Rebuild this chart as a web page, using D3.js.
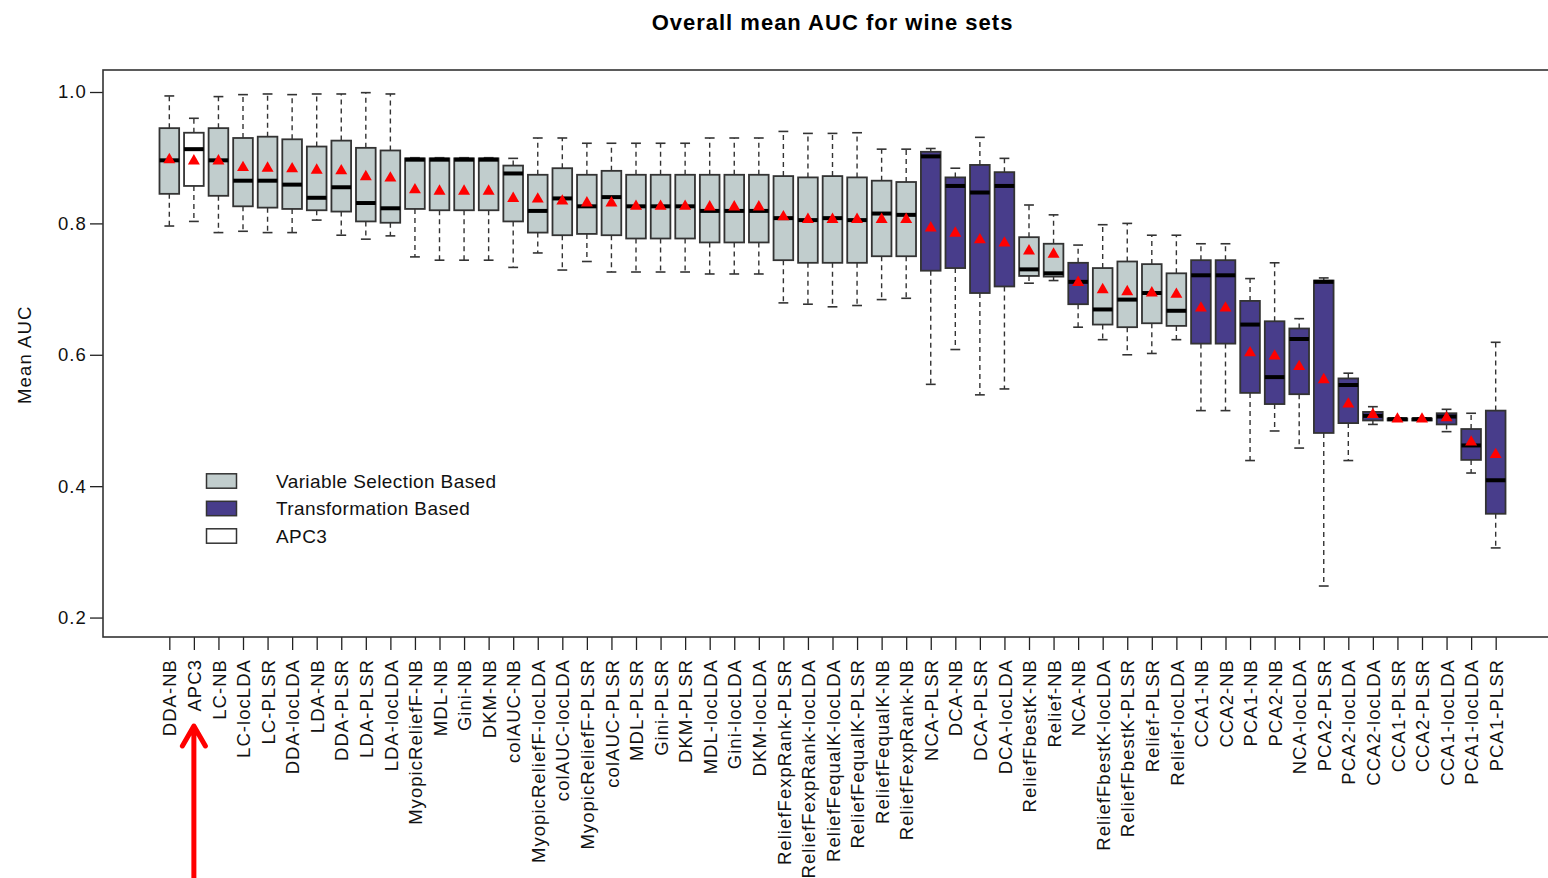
<!DOCTYPE html>
<html>
<head>
<meta charset="utf-8">
<script src="https://cdn.jsdelivr.net/npm/d3@7/dist/d3.min.js"></script>
<style>
  html, body { margin: 0; padding: 0; background: #fff; }
  svg { display: block; font-family: "Liberation Sans", Arial, sans-serif; }
</style>
</head>
<body>
<svg id="chart" width="1548" height="878"></svg>
<script>
const categories = ["DDA-NB","APC3","LC-NB","LC-locLDA","LC-PLSR","DDA-locLDA","LDA-NB","DDA-PLSR","LDA-PLSR","LDA-locLDA",
  "MyopicReliefF-NB","MDL-NB","Gini-NB","DKM-NB","colAUC-NB","MyopicReliefF-locLDA","colAUC-locLDA","MyopicReliefF-PLSR","colAUC-PLSR","MDL-PLSR",
  "Gini-PLSR","DKM-PLSR","MDL-locLDA","Gini-locLDA","DKM-locLDA","ReliefFexpRank-PLSR","ReliefFexpRank-locLDA","ReliefFequalK-locLDA","ReliefFequalK-PLSR","ReliefFequalK-NB",
  "ReliefFexpRank-NB","NCA-PLSR","DCA-NB","DCA-PLSR","DCA-locLDA","ReliefFbestK-NB","Relief-NB","NCA-NB","ReliefFbestK-locLDA","ReliefFbestK-PLSR",
  "Relief-PLSR","Relief-locLDA","CCA1-NB","CCA2-NB","PCA1-NB","PCA2-NB","NCA-locLDA","PCA2-PLSR","PCA2-locLDA","CCA2-locLDA",
  "CCA1-PLSR","CCA2-PLSR","CCA1-locLDA","PCA1-locLDA","PCA1-PLSR"];

// V = Variable Selection Based, T = Transformation Based, A = APC3
const groups = ["V","A","V","V","V","V","V","V","V","V",
  "V","V","V","V","V","V","V","V","V","V",
  "V","V","V","V","V","V","V","V","V","V",
  "V","T","T","T","T","V","V","T","V","V",
  "V","V","T","T","T","T","T","T","T","T",
  "T","T","T","T","T"];

const whiskerLow = [0.796,0.803,0.786,0.788,0.786,0.786,0.805,0.782,0.776,0.781,
  0.749,0.744,0.744,0.744,0.733,0.755,0.729,0.742,0.726,0.726,
  0.726,0.726,0.723,0.723,0.723,0.679,0.677,0.673,0.675,0.684,
  0.686,0.555,0.608,0.539,0.548,0.709,0.713,0.642,0.623,0.600,
  0.602,0.623,0.515,0.515,0.439,0.484,0.458,0.248,0.439,0.494,
  0.499,0.499,0.483,0.420,0.306];

const q1 = [0.845,0.857,0.842,0.826,0.824,0.822,0.820,0.818,0.803,0.801,
  0.822,0.820,0.820,0.820,0.803,0.786,0.782,0.784,0.782,0.777,
  0.777,0.777,0.771,0.771,0.771,0.744,0.740,0.740,0.740,0.750,
  0.750,0.728,0.732,0.694,0.704,0.720,0.719,0.677,0.646,0.642,
  0.648,0.644,0.617,0.617,0.542,0.525,0.540,0.481,0.496,0.500,
  0.500,0.500,0.494,0.440,0.358];

const medians = [0.896,0.913,0.896,0.865,0.865,0.859,0.839,0.855,0.831,0.823,
  0.897,0.897,0.897,0.897,0.876,0.819,0.838,0.826,0.840,0.826,
  0.826,0.826,0.819,0.819,0.819,0.808,0.805,0.808,0.805,0.815,
  0.813,0.902,0.857,0.847,0.857,0.730,0.724,0.711,0.669,0.684,
  0.694,0.667,0.721,0.721,0.646,0.566,0.624,0.711,0.554,0.507,
  0.502,0.502,0.506,0.462,0.409];

const q3 = [0.945,0.938,0.945,0.930,0.932,0.928,0.917,0.926,0.915,0.911,
  0.899,0.899,0.899,0.899,0.888,0.874,0.884,0.874,0.880,0.874,
  0.874,0.874,0.874,0.874,0.874,0.872,0.870,0.872,0.870,0.865,
  0.863,0.909,0.870,0.889,0.878,0.779,0.769,0.740,0.732,0.742,
  0.738,0.724,0.744,0.744,0.682,0.651,0.640,0.713,0.564,0.513,
  0.503,0.503,0.511,0.487,0.515];

const whiskerHigh = [0.994,0.960,0.993,0.996,0.997,0.996,0.997,0.997,0.999,0.997,
  0.900,0.900,0.900,0.900,0.899,0.930,0.930,0.922,0.922,0.922,
  0.922,0.922,0.930,0.930,0.930,0.940,0.937,0.937,0.938,0.913,
  0.913,0.914,0.884,0.931,0.899,0.828,0.813,0.767,0.798,0.800,
  0.782,0.782,0.769,0.769,0.716,0.740,0.655,0.717,0.572,0.521,
  0.504,0.504,0.517,0.511,0.619];

const means = [0.897,0.895,0.895,0.885,0.884,0.883,0.881,0.880,0.871,0.869,
  0.851,0.849,0.849,0.849,0.838,0.837,0.834,0.831,0.831,0.826,
  0.826,0.826,0.825,0.825,0.825,0.810,0.806,0.806,0.806,0.806,
  0.806,0.793,0.785,0.775,0.770,0.758,0.753,0.710,0.699,0.696,
  0.694,0.692,0.671,0.671,0.603,0.598,0.582,0.562,0.525,0.509,
  0.502,0.502,0.504,0.467,0.448];

const yTicks = [0.2, 0.4, 0.6, 0.8, 1.0];
const legendLabels = ["Variable Selection Based", "Transformation Based", "APC3"];
const legendGroups = ["V", "T", "A"];
const titleText = "Overall mean AUC for wine sets";
const yLabel = "Mean AUC";

const fillColor = { V: "#C1CDCD", T: "#483D8B", A: "#FFFFFF" };

const svg = d3.select("#chart");
const plot = { left: 103, right: 1562, top: 70, bottom: 637 };

const x = d3.scaleLinear().domain([-1.7, categories.length + 2.7]).range([plot.left, plot.right]);
const y = d3.scaleLinear().domain([0.1704, 1.0335]).range([plot.bottom, plot.top]);
const step = x(2) - x(1);
const boxW = step * 0.8;
const capW = boxW * 0.5;

// Title
svg.append("text")
  .attr("x", (plot.left + plot.right) / 2).attr("y", 30)
  .attr("text-anchor", "middle")
  .attr("font-size", "22px").attr("font-weight", "bold")
  .attr("letter-spacing", "1px")
  .attr("fill", "#000")
  .text(titleText);

// Y axis
const yAxis = svg.append("g")
  .attr("transform", `translate(${plot.left},0)`)
  .call(d3.axisLeft(y).tickValues(yTicks).tickFormat(d3.format(".1f")).tickSize(13).tickPadding(3));
yAxis.select(".domain").remove();
yAxis.selectAll(".tick line").attr("stroke", "#222").attr("stroke-width", 1.3);
yAxis.selectAll(".tick text")
  .attr("font-size", "18.5px").attr("letter-spacing", "1.1px")
  .attr("fill", "#111").attr("font-family", "Liberation Sans, Arial, sans-serif");

// X axis
const xAxis = svg.append("g")
  .attr("transform", `translate(0,${plot.bottom})`)
  .call(d3.axisBottom(x).tickValues(d3.range(1, categories.length + 1))
        .tickFormat(i => categories[i - 1]).tickSize(13));
xAxis.select(".domain").remove();
xAxis.selectAll(".tick line").attr("stroke", "#222").attr("stroke-width", 1.3);
xAxis.selectAll(".tick text")
  .attr("font-size", "18.5px").attr("letter-spacing", "1.05px")
  .attr("fill", "#111").attr("font-family", "Liberation Sans, Arial, sans-serif")
  .attr("text-anchor", "end")
  .attr("transform", "rotate(-90)")
  .attr("x", -22).attr("y", 0).attr("dy", "0.36em");

// Y label
svg.append("text")
  .attr("transform", `translate(31,${(y(0.2) + y(1.0)) / 2}) rotate(-90)`)
  .attr("text-anchor", "middle")
  .attr("font-size", "18.5px").attr("letter-spacing", "1.1px")
  .attr("fill", "#111")
  .text(yLabel);

// Boxes
const data = categories.map((c, i) => ({
  name: c, idx: i + 1, g: groups[i],
  lo: whiskerLow[i], q1: q1[i], med: medians[i], q3: q3[i], hi: whiskerHigh[i], mean: means[i]
}));

const boxes = svg.append("g").selectAll("g").data(data).join("g");

// whiskers (dashed)
boxes.append("line")
  .attr("x1", d => x(d.idx)).attr("x2", d => x(d.idx))
  .attr("y1", d => y(d.q3)).attr("y2", d => y(d.hi))
  .attr("stroke", "#333").attr("stroke-width", 1.4).attr("stroke-dasharray", "5,4");
boxes.append("line")
  .attr("x1", d => x(d.idx)).attr("x2", d => x(d.idx))
  .attr("y1", d => y(d.q1)).attr("y2", d => y(d.lo))
  .attr("stroke", "#333").attr("stroke-width", 1.4).attr("stroke-dasharray", "5,4");
// staples
boxes.append("line")
  .attr("x1", d => x(d.idx) - capW / 2).attr("x2", d => x(d.idx) + capW / 2)
  .attr("y1", d => y(d.hi)).attr("y2", d => y(d.hi))
  .attr("stroke", "#333").attr("stroke-width", 1.6);
boxes.append("line")
  .attr("x1", d => x(d.idx) - capW / 2).attr("x2", d => x(d.idx) + capW / 2)
  .attr("y1", d => y(d.lo)).attr("y2", d => y(d.lo))
  .attr("stroke", "#333").attr("stroke-width", 1.6);
// box
boxes.append("rect")
  .attr("x", d => x(d.idx) - boxW / 2).attr("width", boxW)
  .attr("y", d => y(d.q3)).attr("height", d => Math.max(0.5, y(d.q1) - y(d.q3)))
  .attr("fill", d => fillColor[d.g])
  .attr("stroke", "#333").attr("stroke-width", 1.8);
// median
boxes.append("line")
  .attr("x1", d => x(d.idx) - boxW / 2).attr("x2", d => x(d.idx) + boxW / 2)
  .attr("y1", d => y(d.med)).attr("y2", d => y(d.med))
  .attr("stroke", "#000").attr("stroke-width", 4);
// mean triangles
boxes.append("path")
  .attr("d", d3.symbol().type(d3.symbolTriangle).size(62))
  .attr("transform", d => `translate(${x(d.idx)},${y(d.mean)})`)
  .attr("fill", "#FF0000");

// Frame
svg.append("rect")
  .attr("x", plot.left).attr("y", plot.top)
  .attr("width", plot.right - plot.left).attr("height", plot.bottom - plot.top)
  .attr("fill", "none").attr("stroke", "#333").attr("stroke-width", 1.6);

// Legend
const legend = svg.append("g");
const legRowY = [481, 508.5, 536];
legendLabels.forEach((lab, i) => {
  legend.append("rect")
    .attr("x", 206.5).attr("y", legRowY[i] - 7.2)
    .attr("width", 30).attr("height", 14.4)
    .attr("fill", fillColor[legendGroups[i]])
    .attr("stroke", "#333").attr("stroke-width", 1.5);
  legend.append("text")
    .attr("x", 276).attr("y", legRowY[i]).attr("dy", "0.36em")
    .attr("font-size", "19px").attr("letter-spacing", "0.4px")
    .attr("fill", "#111")
    .text(lab);
});

// Red arrow annotation pointing at APC3
const ax = x(categories.indexOf("APC3") + 1);
svg.append("path")
  .attr("d", `M${ax},${885} L${ax},${728} M${ax - 11.5},${746} L${ax},${726} L${ax + 11.5},${746}`)
  .attr("fill", "none").attr("stroke", "#FF0000").attr("stroke-width", 5)
  .attr("stroke-linecap", "round").attr("stroke-linejoin", "round");
</script>
</body>
</html>
